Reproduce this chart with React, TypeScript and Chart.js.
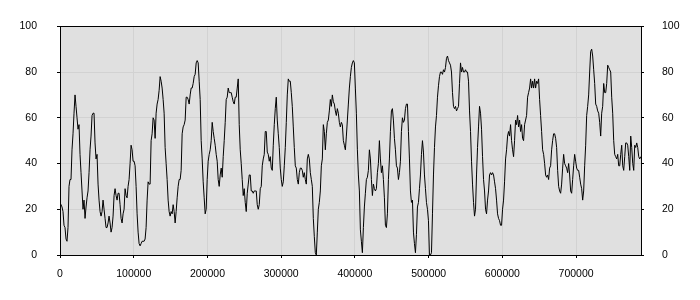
import React, { useEffect, useRef } from "react";
import { Chart, registerables } from "chart.js";

Chart.register(...registerables);

// x spacing between successive samples (data units)
const X_STEP = 1358;
const X_MAX = 788000;

// sample index where each segment begins
const segStarts = [0, 90, 210, 330, 450];

const seg1 = [
  23, 22, 21, 19, 13, 12, 7, 6, 12, 30,
  33, 33, 46, 53, 62, 70, 65, 60, 55, 57,
  44, 36, 28, 20, 24, 16, 21, 25, 28, 36,
  46, 52, 61, 62, 62, 49, 42, 44, 31, 24,
  19, 17, 19, 24, 20, 16, 12, 12, 14, 17,
  14, 10, 12, 17, 26, 29, 26, 24, 27, 27,
  22, 16, 14, 18, 20, 29, 26, 25, 30, 33,
  40, 48, 46, 41, 41, 39, 30, 18, 10, 5,
  4, 5, 6, 6, 6, 7, 12, 24, 32, 31,
];
const seg2 = [
  31, 50, 53, 60, 59, 51, 62, 66, 68, 72,
  78, 76, 73, 68, 62, 47, 40, 33, 24, 19,
  17, 19, 18, 22, 19, 14, 19, 25, 30, 33,
  33, 37, 53, 56, 57, 59, 69, 69, 68, 66,
  70, 73, 73, 75, 78, 79, 84, 85, 84, 76,
  68, 50, 42, 32, 25, 18, 20, 33, 41, 44,
  46, 50, 58, 54, 51, 48, 44, 41, 33, 30,
  35, 38, 34, 43, 50, 58, 68, 69, 73, 71,
  71, 71, 69, 67, 66, 69, 69, 73, 77, 57,
  46, 40, 33, 26, 29, 23, 19, 27, 31, 35,
  35, 28, 28, 27, 28, 28, 28, 22, 20, 22,
  29, 30, 39, 42, 44, 54, 54, 45, 44, 41,
];
const seg3 = [
  43, 38, 37, 48, 57, 64, 69, 59, 53, 47,
  38, 33, 30, 32, 39, 47, 58, 70, 77, 76,
  76, 71, 65, 56, 47, 39, 38, 33, 31, 36,
  38, 38, 37, 34, 36, 33, 31, 42, 44, 42,
  36, 33, 30, 16, 8, 1, 0, 10, 20, 23,
  28, 39, 42, 57, 54, 46, 53, 58, 59, 63,
  68, 65, 70, 67, 66, 63, 61, 64, 62, 58,
  56, 58, 57, 50, 48, 46, 52, 59, 66, 73,
  78, 82, 84, 85, 84, 73, 62, 46, 35, 28,
  11, 6, 1, 12, 21, 27, 33, 34, 37, 46,
  42, 33, 26, 31, 29, 28, 29, 36, 40, 50,
  42, 36, 39, 33, 25, 13, 12, 18, 33, 42,
];
const seg4 = [
  54, 63, 64, 59, 51, 46, 39, 38, 33, 36,
  41, 54, 60, 58, 59, 64, 66, 66, 54, 42,
  28, 23, 24, 10, 5, 1, 9, 21, 23, 29,
  35, 44, 50, 45, 35, 29, 23, 20, 15, 0,
  0, 1, 18, 35, 47, 56, 61, 69, 74, 78,
  80, 80, 79, 81, 80, 82, 86, 87, 85, 84,
  83, 80, 71, 65, 64, 65, 63, 64, 65, 75,
  84, 80, 82, 80, 80, 81, 80, 80, 76, 63,
  54, 41, 31, 23, 17, 20, 35, 47, 56, 65,
  62, 55, 43, 33, 28, 20, 18, 24, 28, 35,
  36, 35, 36, 35, 32, 29, 24, 18, 16, 15,
  13, 13, 20, 24, 32, 42, 46, 52, 54, 52,
];
const seg5 = [
  57, 50, 46, 43, 50, 59, 57, 61, 56, 59,
  54, 57, 51, 50, 57, 59, 61, 69, 71, 73,
  77, 73, 76, 73, 77, 73, 76, 75, 77, 68,
  61, 54, 46, 44, 40, 35, 34, 35, 33, 38,
  39, 46, 50, 53, 53, 51, 47, 37, 30, 28,
  27, 31, 38, 44, 40, 39, 38, 36, 40, 35,
  28, 27, 33, 39, 44, 41, 38, 37, 37, 34,
  31, 29, 24, 28, 39, 48, 61, 65, 70, 80,
  89, 90, 87, 81, 75, 66, 65, 63, 62, 58,
  52, 62, 65, 75, 71, 71, 75, 83, 82, 81,
  80, 69, 62, 50, 44, 43, 42, 44, 39, 39,
  44, 48, 39, 37, 43, 49, 49, 48, 43, 37,
  52, 47, 40, 37, 48, 47, 49, 47, 43, 42,
  43,
];

const yTicks = [0, 20, 40, 60, 80, 100];
const xTicks = [0, 100000, 200000, 300000, 400000, 500000, 600000, 700000];

const FONT = { family: "'Liberation Sans', Arial, sans-serif", size: 10.5 };

function buildPoints() {
  const segs = [seg1, seg2, seg3, seg4, seg5];
  const pts: { x: number; y: number }[] = [];
  segs.forEach((seg, s) => {
    const nextStart = s + 1 < segStarts.length ? segStarts[s + 1] : Infinity;
    seg.forEach((v, k) => {
      const idx = segStarts[s] + k;
      if (idx < nextStart) pts.push({ x: Math.min(idx * X_STEP, X_MAX), y: v });
    });
  });
  return pts;
}

const plotFrame = {
  id: "plotFrame",
  beforeDraw(chart: any) {
    const { ctx, chartArea } = chart;
    ctx.save();
    ctx.fillStyle = "#e0e0e0";
    ctx.fillRect(chartArea.left, chartArea.top, chartArea.right - chartArea.left, chartArea.bottom - chartArea.top);
    ctx.restore();
  },
  afterDraw(chart: any) {
    const { ctx, chartArea } = chart;
    ctx.save();
    ctx.strokeStyle = "#000";
    ctx.lineWidth = 1;
    ctx.beginPath();
    ctx.moveTo(chartArea.left, Math.round(chartArea.top) + 0.5);
    ctx.lineTo(chartArea.right + 1, Math.round(chartArea.top) + 0.5);
    ctx.stroke();
    ctx.restore();
  },
};

export default function App() {
  const ref = useRef<HTMLCanvasElement | null>(null);

  useEffect(() => {
    document.body.style.margin = "0";
    if (!ref.current) return;
    const yScale = (position: "left" | "right", w: number, pad: number, grid: boolean) => ({
      type: "linear" as const,
      position,
      min: 0,
      max: 100,
      afterFit: (s: any) => {
        s.width = w;
      },
      afterBuildTicks: (s: any) => {
        s.ticks = yTicks.map((v) => ({ value: v }));
      },
      border: { color: "#000", width: 1 },
      grid: {
        display: true,
        drawOnChartArea: grid,
        color: "#d2d2d2",
        tickColor: "#000",
        tickLength: 3,
      },
      ticks: { color: "#000", font: FONT, padding: pad },
    });

    const chart = new Chart(ref.current, {
      type: "line",
      data: {
        datasets: [
          {
            data: buildPoints(),
            borderColor: "#000",
            borderWidth: 1,
            pointRadius: 0,
            tension: 0,
            fill: false,
            yAxisID: "y",
          },
        ],
      },
      options: {
        responsive: false,
        animation: false,
        parsing: false as any,
        normalized: true,
        layout: { padding: { top: 10, left: 0, right: 0, bottom: 0 } },
        plugins: { legend: { display: false }, tooltip: { enabled: false } },
        scales: {
          x: {
            type: "linear",
            min: 0,
            max: X_MAX,
            afterFit: (s: any) => {
              s.height = 45;
            },
            afterBuildTicks: (s: any) => {
              s.ticks = xTicks.map((v) => ({ value: v }));
            },
            border: { color: "#000", width: 1 },
            grid: { color: "#d2d2d2", tickColor: "#000", tickLength: 3 },
            ticks: {
              autoSkip: false,
              color: "#000",
              font: FONT,
              padding: 10,
              maxRotation: 0,
              callback: (v: any) => String(v),
            },
          },
          y: yScale("left", 60, 20, true) as any,
          y2: yScale("right", 59, 18, false) as any,
        },
      },
      plugins: [plotFrame],
    });
    return () => chart.destroy();
  }, []);

  return (
    <div style={{ width: 700, height: 300 }}>
      <canvas ref={ref} width={700} height={300} />
    </div>
  );
}
